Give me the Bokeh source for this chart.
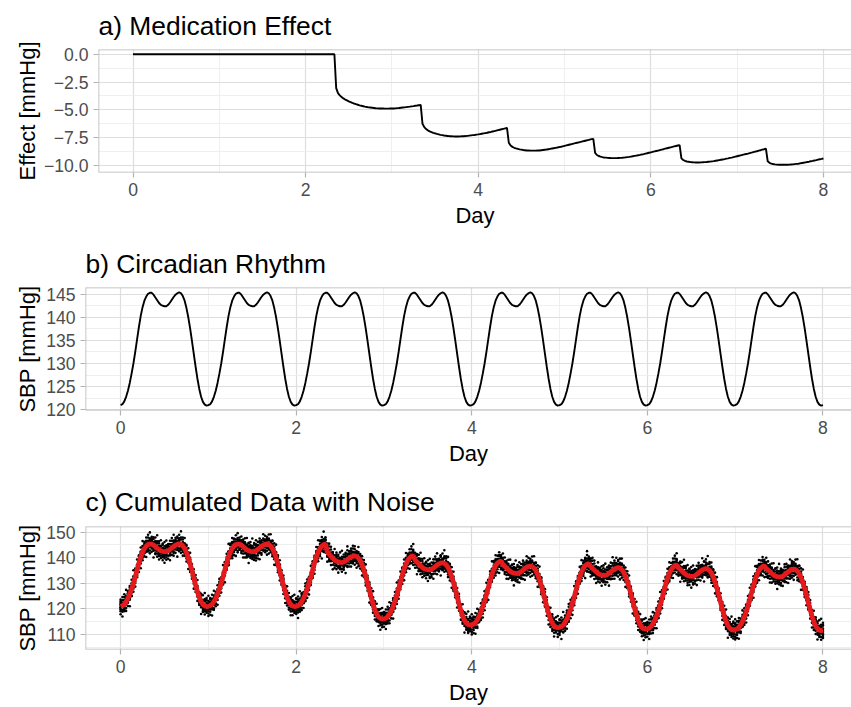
import numpy as np
from bokeh.plotting import figure
from bokeh.layouts import column, row
from bokeh.models import FixedTicker, Span, Range1d, CustomJSTickFormatter
from bokeh.embed import file_html
from bokeh.resources import INLINE

# ---------------- data ----------------
steps_per_day = 48          # one value every 30 minutes
n_days = 8

# b) circadian rhythm, one day (00:00 ... 23:30), identical every day
circadian_one_day = [121.0, 121.2, 121.8, 122.8, 124.1, 125.8, 127.8, 130.0,
                     132.5, 135.2, 137.9, 140.3, 142.2, 143.6, 144.5, 145.1,
                     145.3, 145.3, 144.9, 144.3, 143.7, 143.1, 142.7, 142.5,
                     142.4, 142.4, 142.7, 143.2, 143.8, 144.4, 144.9, 145.2,
                     145.4, 145.2, 144.6, 143.6, 142.0, 140.0, 137.6, 134.9,
                     132.1, 129.3, 126.7, 124.5, 122.8, 121.7, 121.1, 120.9]

# a) medication effect: zero until first dose (day 2.33), then one list per dose interval
effect_before_dose = [0.0] * 113
effect_dose1 = [-3.05, -3.5, -3.7, -3.85, -3.97, -4.07, -4.15, -4.23, -4.30, -4.37, -4.43, -4.49,
                -4.54, -4.59, -4.63, -4.67, -4.71, -4.74, -4.77, -4.79, -4.81, -4.83, -4.85, -4.86,
                -4.87, -4.88, -4.88, -4.89, -4.89, -4.89, -4.88, -4.88, -4.87, -4.86, -4.84, -4.83,
                -4.81, -4.79, -4.77, -4.75, -4.73, -4.71, -4.68, -4.66, -4.63, -4.61, -4.58, -4.55]
effect_dose2 = [-6.25, -6.55, -6.72, -6.84, -6.93, -7.0, -7.06, -7.11, -7.16, -7.2, -7.24, -7.27,
                -7.3, -7.32, -7.34, -7.36, -7.37, -7.38, -7.39, -7.39, -7.39, -7.38, -7.37, -7.36,
                -7.35, -7.33, -7.31, -7.29, -7.27, -7.25, -7.22, -7.2, -7.17, -7.14, -7.11, -7.08,
                -7.05, -7.01, -6.98, -6.94, -6.90, -6.86, -6.82, -6.78, -6.74, -6.70, -6.66, -6.62]
effect_dose3 = [-7.95, -8.2, -8.32, -8.40, -8.46, -8.50, -8.54, -8.57, -8.6, -8.62, -8.64, -8.65,
                -8.66, -8.66, -8.66, -8.66, -8.65, -8.64, -8.62, -8.6, -8.58, -8.56, -8.53, -8.5,
                -8.47, -8.44, -8.41, -8.38, -8.34, -8.31, -8.27, -8.23, -8.19, -8.15, -8.11, -8.07,
                -8.03, -7.99, -7.95, -7.91, -7.87, -7.83, -7.79, -7.75, -7.71, -7.67, -7.63, -7.6]
effect_dose4 = [-8.85, -9.05, -9.14, -9.2, -9.24, -9.27, -9.29, -9.31, -9.32, -9.33, -9.33, -9.33,
                -9.33, -9.32, -9.31, -9.3, -9.28, -9.26, -9.24, -9.22, -9.19, -9.16, -9.13, -9.1,
                -9.07, -9.04, -9.0, -8.97, -8.93, -8.89, -8.85, -8.81, -8.77, -8.73, -8.69, -8.65,
                -8.61, -8.57, -8.53, -8.48, -8.44, -8.40, -8.36, -8.32, -8.28, -8.24, -8.20, -8.16]
effect_dose5 = [-9.35, -9.5, -9.58, -9.63, -9.66, -9.69, -9.7, -9.71, -9.72, -9.72, -9.72, -9.71,
                -9.70, -9.69, -9.68, -9.66, -9.64, -9.62, -9.60, -9.57, -9.54, -9.51, -9.48, -9.45,
                -9.42, -9.38, -9.35, -9.31, -9.28, -9.24, -9.2, -9.16, -9.12, -9.08, -9.04, -9.0,
                -8.96, -8.92, -8.88, -8.84, -8.79, -8.75, -8.71, -8.66, -8.62, -8.57, -8.53, -8.48]
effect_dose6 = [-9.62, -9.75, -9.82, -9.86, -9.89, -9.91, -9.92, -9.93, -9.93, -9.93, -9.93, -9.92,
                -9.91, -9.90, -9.89, -9.87, -9.85, -9.83, -9.80, -9.77, -9.74, -9.71, -9.68, -9.65,
                -9.61, -9.58, -9.54, -9.51, -9.47, -9.43, -9.40, -9.36]

# c) measurement noise around the smooth curve (mmHg), estimated spread of the dots
noise_residuals = [0.8, -1.9, 2.6, -0.4, 1.3, -3.1, 0.2, 1.9, -1.2, -0.7, 3.4, -2.3, 0.5, -0.1,
                   1.1, -4.2, 2.1, -1.6, 0.9, -0.3, 2.8, -2.7, 1.5, 0.0, -1.4, 3.9, -0.9, 0.6,
                   -2.0, 1.7, -0.5, 2.3, -3.6, 0.3, 1.0, -1.1, 4.6, -2.5, -0.2, 1.4, -0.8, 2.0,
                   -1.7, 0.7, -3.0, 1.8, -0.6, 2.9, -1.3, 0.1, -2.2, 3.1, -0.4, 1.2, -4.8, 0.4,
                   2.4, -1.0, -1.8, 1.6, -0.3, 3.6, -2.6, 0.9, -0.1, 1.3, -2.9, 2.2, -1.5, 0.5,
                   5.1, -0.7, -2.1, 1.9, 0.2, -3.3, 2.7, -1.2, 0.6, -0.9, 1.5, -2.4, 3.3, -0.2,
                   -1.6, 0.8, 2.5, -3.8, 1.1, -0.5, 2.0, -1.9, 0.3, 4.1, -2.8, 0.7, -1.0, 1.7,
                   -0.6, -2.3, 3.0, -1.4, 0.0, 1.4, -3.5, 2.6, -0.8, 1.0, -2.0, 0.4, 3.7, -1.7,
                   -0.3, 2.1, -4.4, 1.2, -1.1, 0.9, -2.6, 1.6, -0.4, 2.4, -1.3, 0.2, -3.2, 4.3,
                   -0.9, 1.8, -2.2, 0.6, -0.1]
readings_per_step = 10

x_ticks = [0, 2, 4, 6, 8]
x_minor = [1, 3, 5, 7]

# ---------------- derived tables ----------------
effect = np.array(effect_before_dose + effect_dose1 + effect_dose2 + effect_dose3 +
                  effect_dose4 + effect_dose5 + effect_dose6)
day = np.arange(len(effect)) / steps_per_day
circadian = np.array(circadian_one_day * n_days + [circadian_one_day[0]])
cumulated = circadian + effect

L = len(noise_residuals)
noise_x, noise_y = [], []
for i in range(len(day)):
    for m in range(readings_per_step):
        noise_x.append(day[i])
        noise_y.append(cumulated[i] + noise_residuals[(i * readings_per_step + m) % L])

# ---------------- styling ----------------
FONT = "Liberation Sans"
X_START, X_END = -0.4, 8.325
FRAME_H = 123


def make_panel(title, ylabel, y_start, y_end, yticks, yminor, left, top, bottom,
               ylab_standoff, title_standoff):
    p = figure(width=851, height=top + FRAME_H + bottom, title=title,
               x_range=Range1d(X_START, X_END), y_range=Range1d(y_start, y_end),
               output_backend="svg", toolbar_location=None,
               min_border_left=left, min_border_right=0,
               min_border_top=top, min_border_bottom=bottom)
    p.background_fill_color = "white"
    p.border_fill_color = "white"
    p.outline_line_color = None

    p.title.text_font = FONT
    p.title.text_font_size = "26.4px"
    p.title.text_font_style = "normal"
    p.title.text_color = "black"
    p.title.align = "left"
    p.title.standoff = title_standoff

    xt = FixedTicker(ticks=x_ticks, minor_ticks=x_minor)
    yt = FixedTicker(ticks=yticks, minor_ticks=yminor)
    p.xaxis.ticker = xt
    p.yaxis.ticker = yt
    p.xgrid.ticker = xt
    p.ygrid.ticker = yt

    for ax in (p.xaxis, p.yaxis):
        ax.axis_line_color = None
        ax.major_tick_line_color = "#B3B3B3"
        ax.major_tick_line_width = 1.2
        ax.major_tick_out = 5
        ax.major_tick_in = 0
        ax.minor_tick_line_color = None
        ax.major_label_text_font = FONT
        ax.major_label_text_font_size = "17.6px"
        ax.major_label_text_color = "#4D4D4D"
        ax.axis_label_text_font = FONT
        ax.axis_label_text_font_size = "22px"
        ax.axis_label_text_font_style = "normal"
        ax.axis_label_text_color = "black"
    p.xaxis.axis_label = "Day"
    p.xaxis.major_label_standoff = 5
    p.xaxis.axis_label_standoff = 4
    p.yaxis.axis_label = ylabel
    p.yaxis.major_label_standoff = 5
    p.yaxis.axis_label_standoff = ylab_standoff

    for g in (p.xgrid, p.ygrid):
        g.grid_line_color = "#DEDEDE"
        g.grid_line_width = 1.2
        g.minor_grid_line_color = "#EBEBEB"
        g.minor_grid_line_width = 0.8

    for loc, dim in ((y_end, "width"), (y_start, "width"), (X_START, "height")):
        p.add_layout(Span(location=loc, dimension=dim, line_color="#B3B3B3", line_width=1.5))
    return p


pa = make_panel("a) Medication Effect", "Effect [mmHg]", -10.62, 0.42,
                [-10, -7.5, -5, -2.5, 0], [-8.75, -6.25, -3.75, -1.25],
                left=98, top=49, bottom=66, ylab_standoff=1, title_standoff=17)
pa.yaxis.formatter = CustomJSTickFormatter(
    code="return (tick < 0 ? '\u2212' : '') + Math.abs(tick).toFixed(1);")
pa.line(day, effect, line_color="black", line_width=1.9)

pb = make_panel("b) Circadian Rhythm", "SBP [mmHg]", 119.83, 146.45,
                [120, 125, 130, 135, 140, 145], [122.5, 127.5, 132.5, 137.5, 142.5],
                left=85, top=49, bottom=65, ylab_standoff=3, title_standoff=17)
pb.line(day, circadian, line_color="black", line_width=1.9)

pc = make_panel("c) Cumulated Data with Noise", "SBP [mmHg]", 104.1, 152.2,
                [110, 120, 130, 140, 150], [105, 115, 125, 135, 145],
                left=85, top=51, bottom=58, ylab_standoff=3, title_standoff=19)
pc.scatter(noise_x, noise_y, size=2.6, color="black", line_color=None)
pc.line(day, cumulated, line_color="#E41A1C", line_width=4.8)

layout = column(row(pa), row(pb), row(pc), spacing=0)
open("out.html", "w").write(file_html(layout, INLINE))
